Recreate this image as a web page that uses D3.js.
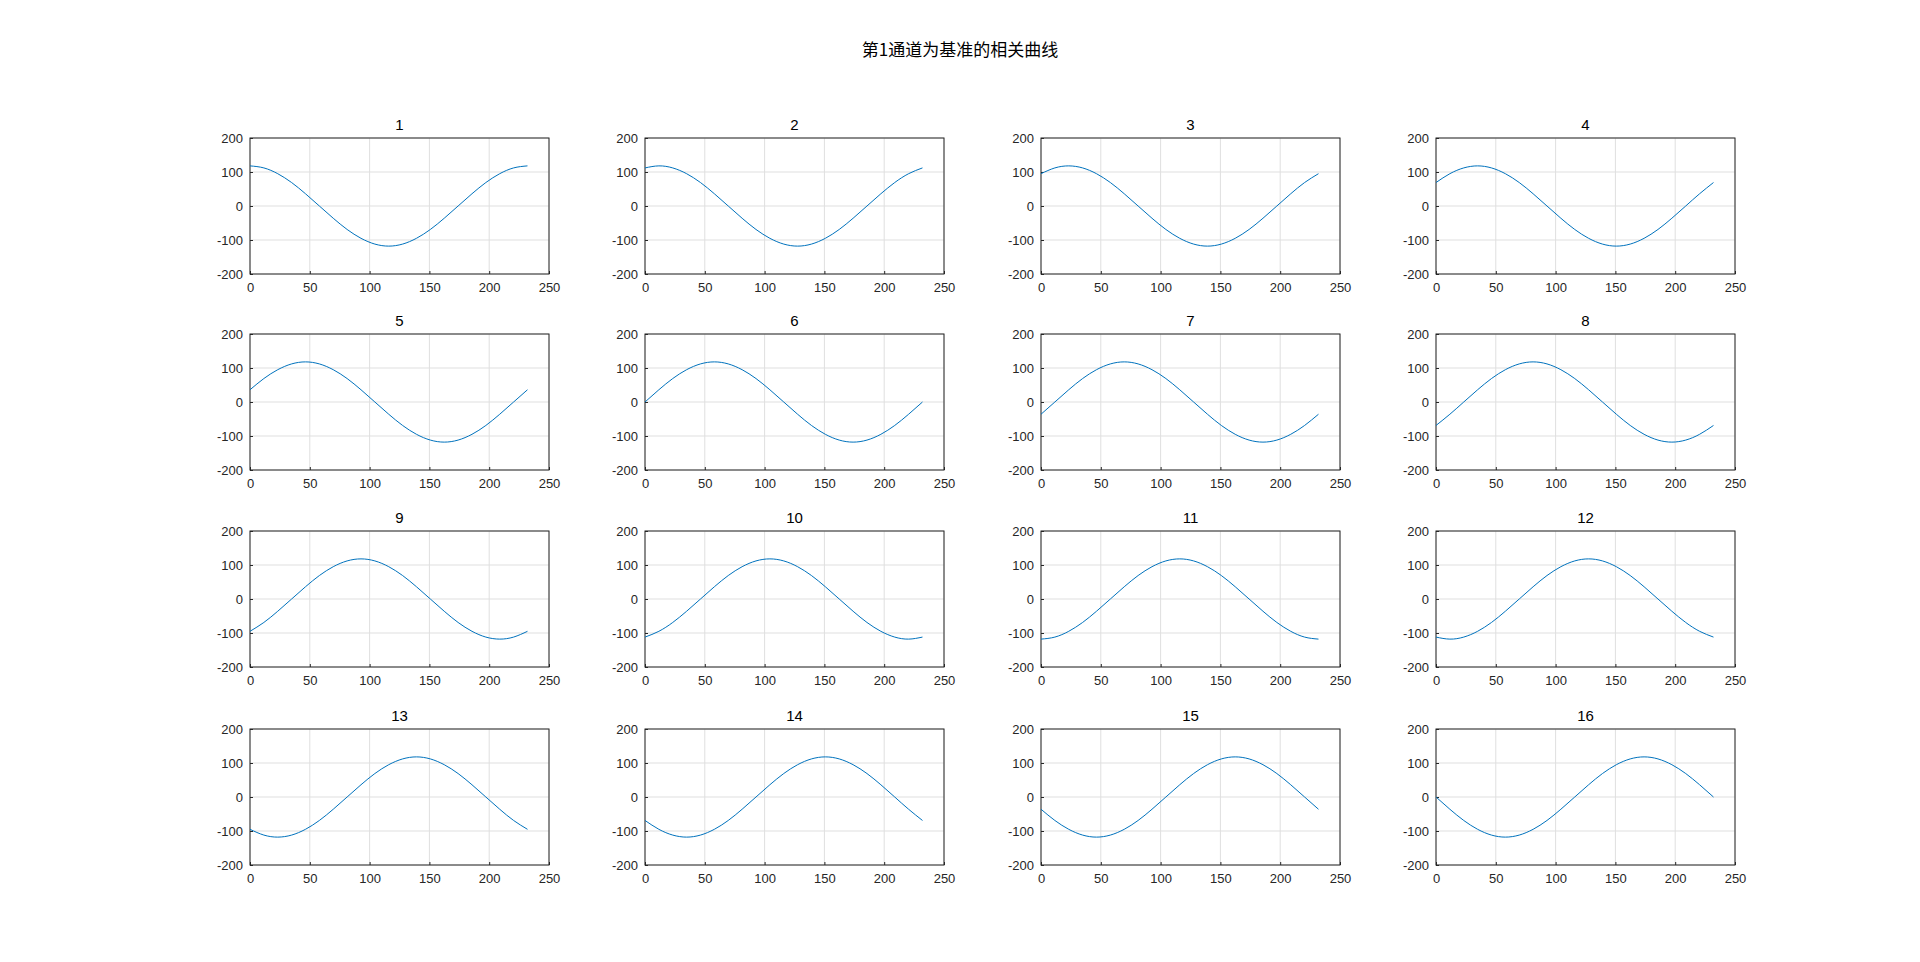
<!DOCTYPE html>
<html lang="zh">
<head>
<meta charset="UTF-8">
<script src="https://d3js.org/d3.v7.min.js"></script>
<style>
  body { margin: 0; background: #fff; }
  text { font-family: "Liberation Sans", Arial, sans-serif; }
</style>
</head>
<body>
<svg id="chart" width="1920" height="962"></svg>
<script>
const title = "第1通道为基准的相关曲线";
const lags = [0, 11.6, 23.2, 34.8, 46.4, 58, 69.6, 81.2, 92.8, 104.4, 116, 127.6, 139.2, 150.8, 162.4, 174, 185.6, 197.2, 208.8, 220.4, 232];
const xTicks = [0, 50, 100, 150, 200, 250];
const yTicks = [-200, -100, 0, 100, 200];
const channels = [
  [118,112,95,69,36,0,-36,-69,-95,-112,-118,-112,-95,-69,-36,0,36,69,95,112,118],
  [112,118,112,95,69,36,0,-36,-69,-95,-112,-118,-112,-95,-69,-36,0,36,69,95,112],
  [95,112,118,112,95,69,36,0,-36,-69,-95,-112,-118,-112,-95,-69,-36,0,36,69,95],
  [69,95,112,118,112,95,69,36,0,-36,-69,-95,-112,-118,-112,-95,-69,-36,0,36,69],
  [36,69,95,112,118,112,95,69,36,0,-36,-69,-95,-112,-118,-112,-95,-69,-36,0,36],
  [0,36,69,95,112,118,112,95,69,36,0,-36,-69,-95,-112,-118,-112,-95,-69,-36,0],
  [-36,0,36,69,95,112,118,112,95,69,36,0,-36,-69,-95,-112,-118,-112,-95,-69,-36],
  [-69,-36,0,36,69,95,112,118,112,95,69,36,0,-36,-69,-95,-112,-118,-112,-95,-69],
  [-95,-69,-36,0,36,69,95,112,118,112,95,69,36,0,-36,-69,-95,-112,-118,-112,-95],
  [-112,-95,-69,-36,0,36,69,95,112,118,112,95,69,36,0,-36,-69,-95,-112,-118,-112],
  [-118,-112,-95,-69,-36,0,36,69,95,112,118,112,95,69,36,0,-36,-69,-95,-112,-118],
  [-112,-118,-112,-95,-69,-36,0,36,69,95,112,118,112,95,69,36,0,-36,-69,-95,-112],
  [-95,-112,-118,-112,-95,-69,-36,0,36,69,95,112,118,112,95,69,36,0,-36,-69,-95],
  [-69,-95,-112,-118,-112,-95,-69,-36,0,36,69,95,112,118,112,95,69,36,0,-36,-69],
  [-36,-69,-95,-112,-118,-112,-95,-69,-36,0,36,69,95,112,118,112,95,69,36,0,-36],
  [0,-36,-69,-95,-112,-118,-112,-95,-69,-36,0,36,69,95,112,118,112,95,69,36,0]
];

const svg = d3.select("#chart");
svg.append("text").attr("x", 960).attr("y", 56).attr("text-anchor", "middle")
  .style("font-family", "'Noto Sans CJK SC', sans-serif").style("font-size", "17px")
  .style("font-weight", "400").text(title);

const colX = [250, 645, 1041, 1436], rowY = [138, 334, 531, 729];
const w = 299, h = 136;
const x = d3.scaleLinear().domain([0, 250]).range([0, w]);
const y = d3.scaleLinear().domain([-200, 200]).range([h, 0]);
const line = d3.line().x((d, i) => x(lags[i])).y(d => y(d)).curve(d3.curveNatural);

channels.forEach((vals, k) => {
  const g = svg.append("g").attr("transform", `translate(${colX[k % 4]},${rowY[Math.floor(k / 4)]})`);
  g.append("g").selectAll("line").data(xTicks).join("line")
    .attr("x1", d => x(d)).attr("x2", d => x(d)).attr("y1", 0).attr("y2", h)
    .attr("stroke", "#dfdfdf");
  g.append("g").selectAll("line").data(yTicks).join("line")
    .attr("y1", d => y(d)).attr("y2", d => y(d)).attr("x1", 0).attr("x2", w)
    .attr("stroke", "#dfdfdf");
  const ax = g.append("g").attr("transform", `translate(0,${h})`)
    .call(d3.axisBottom(x).tickValues(xTicks).tickFormat(d => String(d))
      .tickSizeInner(-3).tickSizeOuter(0).tickPadding(9));
  const ay = g.append("g")
    .call(d3.axisLeft(y).tickValues(yTicks).tickFormat(d => String(d))
      .tickSizeInner(-3).tickSizeOuter(0).tickPadding(7));
  [ax, ay].forEach(a => {
    a.select(".domain").remove();
    a.selectAll("text").style("font-size", "13px").attr("fill", "#262626");
    a.selectAll("line").attr("stroke", "#262626");
  });
  g.append("rect").attr("width", w).attr("height", h).attr("fill", "none").attr("stroke", "#262626");
  g.append("path").datum(vals).attr("d", line).attr("fill", "none")
    .attr("stroke", "#0072bd").attr("stroke-width", 1);
  g.append("text").attr("x", w / 2).attr("y", -8).attr("text-anchor", "middle")
    .style("font-size", "15px").attr("fill", "#000").text(k + 1);
});
</script>
</body>
</html>
